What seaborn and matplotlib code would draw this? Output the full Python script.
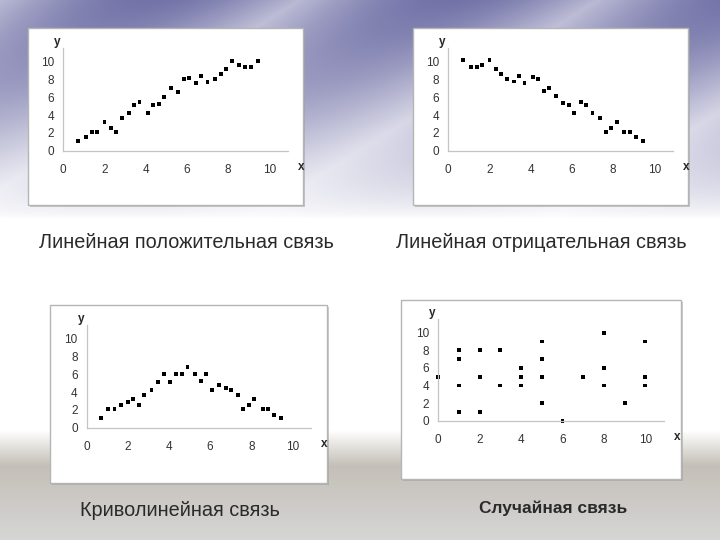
import numpy as np
import pandas as pd
import matplotlib.pyplot as plt
import seaborn as sns
from matplotlib.patches import Rectangle

# data
pos_x = [0.7, 1.1, 1.4, 1.65, 2.0, 2.3, 2.55, 2.85, 3.2, 3.45, 3.7, 4.1, 4.35, 4.65, 4.9,
         5.25, 5.55, 5.85, 6.1, 6.45, 6.7, 7.0, 7.35, 7.65, 7.9, 8.2, 8.55, 8.8, 9.1, 9.45]
pos_y = [1.1, 1.5, 2.1, 2.1, 3.2, 2.6, 2.1, 3.7, 4.2, 5.1, 5.5, 4.2, 5.1, 5.3, 6.1,
         7.1, 6.6, 8.1, 8.2, 7.6, 8.4, 7.7, 8.1, 8.6, 9.2, 10.1, 9.7, 9.4, 9.4, 10.1]

neg_x = pos_x
neg_y = [10.2, 9.4, 9.4, 9.7, 10.2, 9.2, 8.6, 8.1, 7.8, 8.4, 7.6, 8.3, 8.1, 6.7, 7.1,
         6.2, 5.4, 5.2, 4.2, 5.5, 5.2, 4.2, 3.7, 2.1, 2.6, 3.2, 2.1, 2.1, 1.5, 1.1]

curv_x = [0.7, 1.05, 1.35, 1.65, 2.0, 2.25, 2.55, 2.8, 3.15, 3.45, 3.75, 4.05, 4.35, 4.65, 4.9,
          5.25, 5.55, 5.8, 6.1, 6.45, 6.75, 7.0, 7.35, 7.6, 7.9, 8.15, 8.55, 8.8, 9.1, 9.45]
curv_y = [1.1, 2.1, 2.1, 2.6, 2.9, 3.2, 2.6, 3.7, 4.2, 5.1, 6.1, 5.1, 6.1, 6.1, 6.8,
          6.1, 5.3, 6.1, 4.2, 4.8, 4.5, 4.2, 3.7, 2.1, 2.6, 3.2, 2.1, 2.1, 1.4, 1.1]

rand_x = [0, 1, 1, 1, 1, 2, 2, 2, 3, 3, 4, 4, 4, 5, 5, 5, 5, 6, 7, 8, 8, 8, 9, 10, 10, 10]
rand_y = [5, 8, 7, 4, 1, 8, 5, 1, 8, 4, 6, 5, 4, 9, 7, 5, 2, 0, 5, 10, 6, 4, 2, 9, 5, 4]

titles = ["Линейная положительная связь", "Линейная отрицательная связь",
          "Криволинейная связь", "Случайная связь"]

sns.set_style("white")
plt.rcParams['font.family'] = ['Liberation Sans', 'DejaVu Sans']

W, H = 720, 540
fig = plt.figure(figsize=(7.2, 5.4), dpi=100)

# slide background: lavender top, grey bottom
rows = np.arange(H)[:, None]
cols = np.arange(W)[None, :]
img = np.ones((H, W, 3))
top = np.clip(1 - rows / 218.0, 0, 1) ** 0.7
wave = 0.5 + 0.5 * np.abs(np.sin(cols / 95.0 + rows / 60.0))
lav = np.array([0.45, 0.45, 0.66])
amt = (top * wave)[..., None]
img = img * (1 - amt) + lav * amt
grey1 = np.array([0.77, 0.75, 0.72])
grey2 = np.array([0.84, 0.84, 0.84])
t1 = np.clip((rows - 430) / 35.0, 0, 1)[..., None]
t2 = np.clip((rows - 465) / 75.0, 0, 1)[..., None]
bottom = grey1 * (1 - t2) + grey2 * t2
img = img * (1 - t1) + bottom * t1
bg = fig.add_axes([0, 0, 1, 1])
bg.imshow(img, aspect='auto', extent=[0, W, H, 0])
bg.set_xlim(0, W)
bg.set_ylim(H, 0)
bg.axis('off')

def px(x0, y0, x1, y1):
    return [x0 / W, 1 - y1 / H, (x1 - x0) / W, (y1 - y0) / H]

# white frames
boxes = [(28, 28, 303, 205), (413, 28, 688, 205), (50, 305, 327, 483), (401, 300, 681, 479)]
for (x0, y0, x1, y1) in boxes:
    bg.add_patch(Rectangle((x0 + 2, y0 + 2), x1 - x0, y1 - y0, facecolor='#9a9a9a',
                           edgecolor='none', alpha=0.5))
    bg.add_patch(Rectangle((x0, y0), x1 - x0, y1 - y0, facecolor='white',
                           edgecolor='#b5b5b5', linewidth=1))

# axes: origin pixel, px per unit
frames = [(63.3, 150.7, 20.6, 8.87), (448.3, 150.7, 20.6, 8.87),
          (86.7, 427.7, 20.57, 8.87), (438.3, 420.7, 20.7, 8.8)]
data = [(pos_x, pos_y), (neg_x, neg_y), (curv_x, curv_y), (rand_x, rand_y)]
xmax, ymax = 10.9, 11.6

for (ox, oy, sx, sy), (xs, ys) in zip(frames, data):
    ax = fig.add_axes(px(ox, oy - ymax * sy, ox + xmax * sx, oy))
    ax.patch.set_alpha(0)
    df = pd.DataFrame({'x': xs, 'y': ys})
    sns.scatterplot(data=df, x='x', y='y', ax=ax, marker='s', s=8, color='black',
                    edgecolor='none', clip_on=False)
    ax.set_xlim(0, xmax)
    ax.set_ylim(0, ymax)
    ax.set_xticks([0, 2, 4, 6, 8, 10])
    ax.set_yticks([0, 2, 4, 6, 8, 10])
    for s in ['top', 'right']:
        ax.spines[s].set_visible(False)
    for s in ['left', 'bottom']:
        ax.spines[s].set_color('#c4c4c4')
        ax.spines[s].set_linewidth(0.9)
    ax.tick_params(axis='both', length=2.5, width=0.8, color='#c4c4c4',
                   labelsize=8.5, labelcolor='#333333')
    ax.tick_params(axis='x', pad=7)
    ax.tick_params(axis='y', pad=4)
    ax.set_xlabel('')
    ax.set_ylabel('')
    ax.text(-0.012, 1.0, 'y', transform=ax.transAxes, ha='right', va='bottom',
            fontsize=8.5, fontweight='bold')
    ax.text(1.045, -0.16, 'x', transform=ax.transAxes, ha='left', va='center',
            fontsize=8.5, fontweight='bold')

# captions
bg.text(186, 242, titles[0], ha='center', va='center', fontsize=14.3, color='#2a2a2a')
bg.text(541, 242, titles[1], ha='center', va='center', fontsize=14.3, color='#2a2a2a')
bg.text(180, 511, titles[2], ha='center', va='center', fontsize=14.3, color='#2a2a2a')
bg.text(553, 508, titles[3], ha='center', va='center', fontsize=12.5,
        fontweight='bold', color='#2a2a2a')

fig.savefig('out.png', dpi=100)
